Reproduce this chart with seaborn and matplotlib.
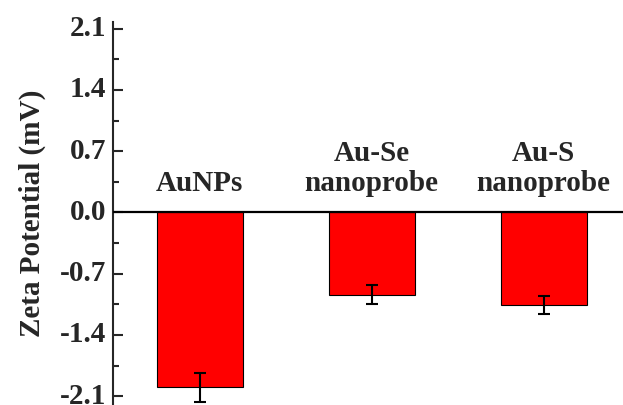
import matplotlib
matplotlib.use("Agg")
import matplotlib.pyplot as plt
import matplotlib.transforms as mtransforms
import seaborn as sns
import numpy as np
import pandas as pd
from matplotlib.ticker import MultipleLocator

categories = ["AuNPs", "Au-Se\nnanoprobe", "Au-S\nnanoprobe"]
values = [-2.00, -0.94, -1.06]
errors = [0.17, 0.11, 0.10]
yticks = [-2.1, -1.4, -0.7, 0.0, 0.7, 1.4, 2.1]

sns.set_style("ticks")
plt.rcParams['font.family'] = ['Liberation Serif', 'DejaVu Serif']
plt.rcParams['font.weight'] = 'bold'

df = pd.DataFrame({"cat": categories, "val": values})

fig = plt.figure(figsize=(6.23, 4.05), dpi=100)
ax = fig.add_axes([113/623, 0.0, 510/623, (405 - 21.7)/405])

sns.barplot(data=df, x="cat", y="val", color="#ff0000", saturation=1,
            width=0.5, edgecolor="black", linewidth=0.8, errorbar=None, ax=ax)
ax.errorbar(x=np.arange(len(values)), y=values, yerr=errors, fmt="none",
            ecolor="black", elinewidth=1.5, capsize=4, capthick=1.5)

ax.axhline(0, color="black", linewidth=1.6, zorder=5)

for i, c in enumerate(categories):
    ax.text(i, 0.18, c, ha="center", va="bottom", fontsize=21,
            fontweight="bold", linespacing=1.15)

ax.set_ylim(-2.2, 2.18)
ax.set_xlim(-0.503, 2.462)
ax.set_yticks(yticks)
ax.set_yticklabels([f"{t:.1f}" for t in yticks], fontsize=21, fontweight="bold")
ax.yaxis.set_minor_locator(MultipleLocator(0.35))
ax.tick_params(axis="y", which="major", direction="in", length=7, width=1.5, pad=5)
ax.tick_params(axis="y", which="minor", direction="in", length=4, width=1.5)
ax.set_xticks([])
ax.set_xlabel("")
ax.set_ylabel("Zeta Potential (mV)", fontsize=21, fontweight="bold", labelpad=10)

offset = mtransforms.ScaledTranslation(0, 3/100, fig.dpi_scale_trans)
for lbl in ax.get_yticklabels():
    lbl.set_transform(lbl.get_transform() + offset)

for s in ["top", "right", "bottom"]:
    ax.spines[s].set_visible(False)
ax.spines["left"].set_linewidth(1.5)

fig.savefig("out.png", dpi=100)
